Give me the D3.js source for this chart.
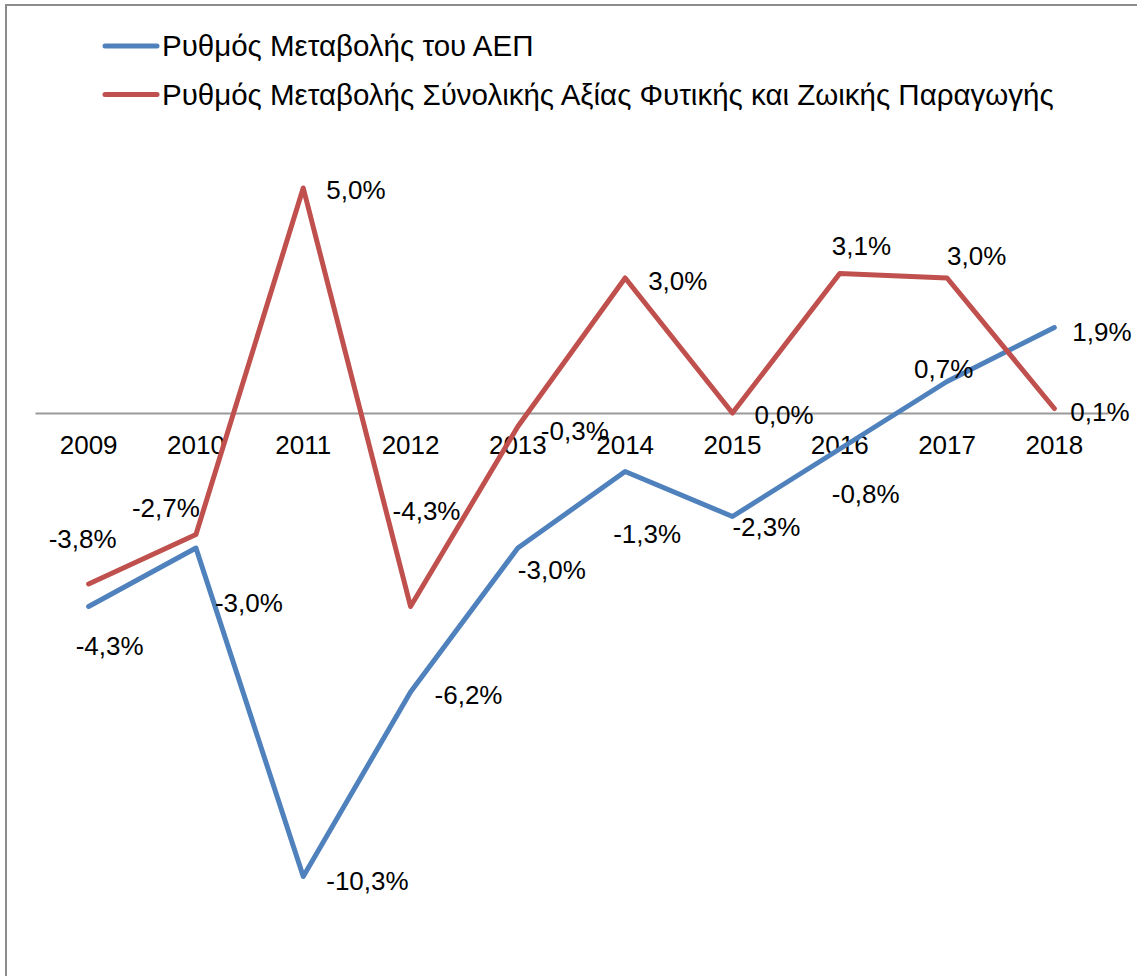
<!DOCTYPE html>
<html>
<head>
<meta charset="utf-8">
<script src="https://cdn.jsdelivr.net/npm/d3@7"></script>
<style>
  body { margin: 0; background: #fff; }
  svg { display: block; font-family: Arial, "Liberation Sans", sans-serif; }
</style>
</head>
<body>
<div id="chart"></div>
<script>
// data
const years = ["2009","2010","2011","2012","2013","2014","2015","2016","2017","2018"];
const gdpChange = [-4.3, -3.0, -10.3, -6.2, -3.0, -1.3, -2.3, -0.8, 0.7, 1.9];
const agriChange = [-3.8, -2.7, 5.0, -4.3, -0.3, 3.0, 0.0, 3.1, 3.0, 0.1];
const seriesNames = ["Ρυθμός Μεταβολής του ΑΕΠ", "Ρυθμός Μεταβολής Σύνολικής Αξίας Φυτικής και Ζωικής Παραγωγής"];

// label nudges (px) relative to each point, as placed in the original
const gdpLabelShift = [[-13,39],[19,55],[23,4],[24,3],[0,22],[-12,62],[0,10],[-8,45],[-33,-13],[18,4]];
const agriLabelShift = [[-40,-45],[-64,-27],[23,2],[-18,-96],[23,4],[23,3],[22,2],[-8,-28],[0,-22],[16,3]];

const width = 1137, height = 976;
const colors = ["#4F81BD", "#C0504D"];

const svg = d3.select("#chart").append("svg")
    .attr("width", width)
    .attr("height", height);

// outer frame
svg.append("rect")
    .attr("x", 6).attr("y", 5)
    .attr("width", width + 20).attr("height", height + 20)
    .attr("fill", "none")
    .attr("stroke", "#8c8c8c")
    .attr("stroke-width", 2);

const x = d3.scaleBand()
    .domain(years)
    .range([35, 1108]);

const y = d3.scaleLinear()
    .domain([-12, 6])
    .range([953, 143]);

// category axis on zero line
const xAxis = d3.axisBottom(x).tickSize(0).tickPadding(23);
const axisG = svg.append("g")
    .attr("transform", "translate(0," + y(0) + ")")
    .call(xAxis);
axisG.select(".domain").attr("stroke", "#9a9a9a").attr("stroke-width", 2);
axisG.selectAll("text")
    .style("font-size", "26px")
    .style("font-family", "Arial, 'Liberation Sans', sans-serif")
    .attr("fill", "#000");

const line = d3.line()
    .x((d, i) => x(years[i]) + x.bandwidth() / 2)
    .y(d => y(d));

const series = [
    {values: gdpChange, shift: gdpLabelShift},
    {values: agriChange, shift: agriLabelShift}
];

const fmt = v => d3.format(".1f")(v).replace(".", ",").replace("−", "-") + "%";

series.forEach(function (s, k) {
    svg.append("path")
        .datum(s.values)
        .attr("d", line)
        .attr("fill", "none")
        .attr("stroke", colors[k])
        .attr("stroke-width", 5)
        .attr("stroke-linejoin", "round")
        .attr("stroke-linecap", "round");
});

// labels drawn on top of both lines
series.forEach(function (s) {
    svg.append("g").selectAll("text")
        .data(s.values)
        .enter()
        .append("text")
        .attr("x", (d, i) => x(years[i]) + x.bandwidth() / 2 + s.shift[i][0])
        .attr("y", (d, i) => y(d) + s.shift[i][1])
        .attr("dy", "0.35em")
        .style("font-size", "26px")
        .text(d => fmt(d));
});

// legend
const legend = svg.append("g");
seriesNames.forEach(function (name, i) {
    const ly = 46 + i * 48.5;
    legend.append("line")
        .attr("x1", 105).attr("x2", 157)
        .attr("y1", ly).attr("y2", ly)
        .attr("stroke", colors[i])
        .attr("stroke-width", 5)
        .attr("stroke-linecap", "round");
    legend.append("text")
        .attr("x", 162)
        .attr("y", ly)
        .attr("dy", "0.35em")
        .style("font-size", "29.5px")
        .text(name);
});
</script>
</body>
</html>
